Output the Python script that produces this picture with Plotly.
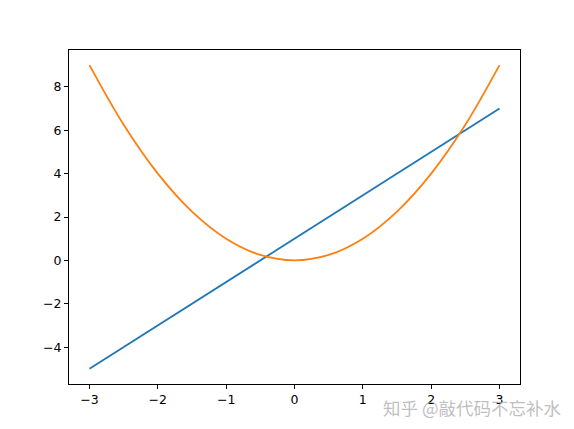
import plotly.graph_objects as go

# values
x_vals = [-3.0, -2.5, -2.0, -1.5, -1.0, -0.5, 0.0, 0.5, 1.0, 1.5, 2.0, 2.5, 3.0]
y_line = [-5.0, -4.0, -3.0, -2.0, -1.0, 0.0, 1.0, 2.0, 3.0, 4.0, 5.0, 6.0, 7.0]
y_curve = [9.0, 6.25, 4.0, 2.25, 1.0, 0.25, 0.0, 0.25, 1.0, 2.25, 4.0, 6.25, 9.0]

x_ticks = [-3, -2, -1, 0, 1, 2, 3]
y_ticks = [-4, -2, 0, 2, 4, 6, 8]

def lab(v):
    return str(v).replace("-", "\u2212")

fig = go.Figure()
fig.add_trace(go.Scatter(x=x_vals, y=y_line, mode="lines",
                         line=dict(color="#1f77b4", width=1.8)))
fig.add_trace(go.Scatter(x=x_vals, y=y_curve, mode="lines",
                         line=dict(color="#ff7f0e", width=1.8, shape="spline")))

axis_style = dict(showgrid=False, zeroline=False, showline=True, mirror=True,
                  linecolor="black", linewidth=1, ticks="outside", ticklen=4,
                  tickwidth=1, tickcolor="black",
                  tickfont=dict(family="DejaVu Sans", size=12.5, color="black"))

fig.update_xaxes(range=[-3.3, 3.3], tickvals=x_ticks,
                 ticktext=[lab(v) for v in x_ticks], **axis_style)
fig.update_yaxes(range=[-5.7, 9.7], tickvals=y_ticks,
                 ticktext=[lab(v) for v in y_ticks], **axis_style)

# watermark
fig.add_annotation(text="知乎 @敲代码不忘补水", xref="paper", yref="paper",
                   x=0.893, y=-0.07, xanchor="center", yanchor="middle",
                   showarrow=False,
                   font=dict(family="Noto Sans CJK SC", size=17.5,
                             color="rgba(170,170,170,0.75)"))

# page body has an 8px margin, so the margins are shifted to compensate
fig.update_layout(width=574, height=429, showlegend=False,
                  margin=dict(l=61, r=62, t=42, b=53),
                  plot_bgcolor="white", paper_bgcolor="white")

fig.write_html("out.html")
